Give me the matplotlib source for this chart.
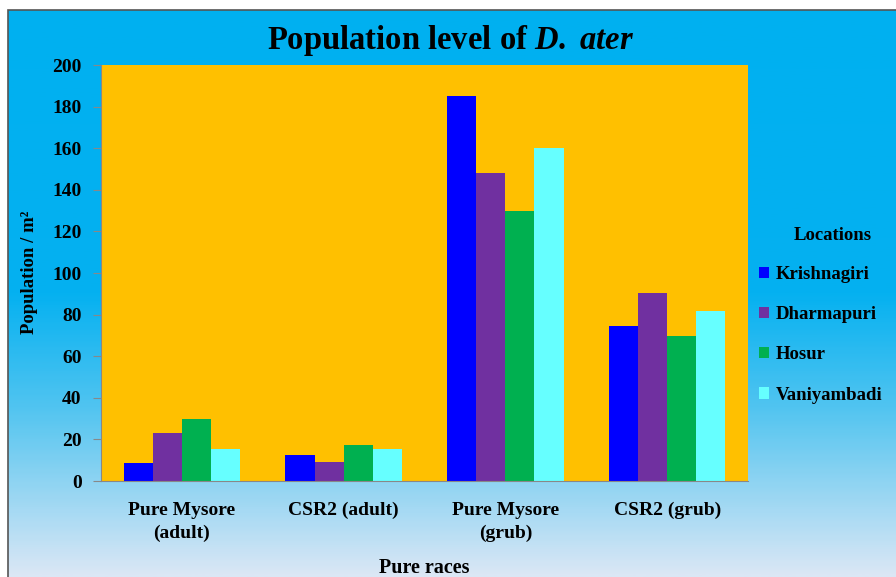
import numpy as np
import matplotlib
matplotlib.use("Agg")
import matplotlib.pyplot as plt
from matplotlib.colors import LinearSegmentedColormap
from matplotlib.patches import Patch, Rectangle

# data
races = ["Pure Mysore\n(adult)", "CSR2 (adult)", "Pure Mysore\n(grub)", "CSR2 (grub)"]
locations = ["Krishnagiri", "Dharmapuri", "Hosur", "Vaniyambadi"]
krishnagiri = [8.5, 12.5, 185, 74.5]
dharmapuri = [23.3, 9.1, 148, 90.4]
hosur = [29.8, 17.3, 130, 69.7]
vaniyambadi = [15.5, 15.2, 160, 81.5]
yticks = [0, 20, 40, 60, 80, 100, 120, 140, 160, 180, 200]

series = [krishnagiri, dharmapuri, hosur, vaniyambadi]
colors = ["#0000FF", "#7030A0", "#00B050", "#66FFFF"]

plt.rcParams["font.family"] = ["Liberation Serif", "DejaVu Serif"]
plt.rcParams["font.weight"] = "bold"
plt.rcParams["mathtext.fontset"] = "custom"
plt.rcParams["mathtext.it"] = "Liberation Serif:italic:bold"
plt.rcParams["mathtext.rm"] = "Liberation Serif:bold"
plt.rcParams["mathtext.bf"] = "Liberation Serif:bold"

fig = plt.figure(figsize=(8.96, 5.77), dpi=100)
fig.patch.set_facecolor("white")

# gradient background of the chart frame
bg = fig.add_axes([8 / 896, 0, 1 - 8 / 896, 1 - 10 / 577])
cmap = LinearSegmentedColormap.from_list(
    "bg", [(0.0, "#00B0F0"), (0.50, "#05B1F0"), (0.70, "#50C4F0"), (1.0, "#DBE7F5")])
grad = np.linspace(0, 1, 300).reshape(-1, 1)
bg.imshow(grad, aspect="auto", cmap=cmap, extent=[0, 1, 0, 1], origin="upper")
bg.set_axis_off()
fig.add_artist(Rectangle((8 / 896, -0.1), 1.2, 1.1 - 10 / 577, transform=fig.transFigure,
                         fill=False, edgecolor="#555555", linewidth=1.2))

ax = fig.add_axes([101 / 896, 1 - 481 / 577, 647 / 896, 416 / 577])
ax.set_facecolor("#FFC000")

x = np.arange(len(races))
w = 0.18
for i, (vals, c, name) in enumerate(zip(series, colors, locations)):
    ax.bar(x + (i - 1.5) * w, vals, width=w, color=c, label=name)

ax.set_xlim(-0.5, len(races) - 0.5)
ax.set_ylim(0, 200)
ax.set_yticks(yticks)
ax.set_yticklabels([str(v) for v in yticks], fontsize=14, fontweight="bold")
ax.set_xticks(x)
ax.set_xticklabels(races, fontsize=14, fontweight="bold", linespacing=1.45)
ax.tick_params(axis="x", length=0, pad=15)
ax.tick_params(axis="y", length=6, color="#888888", pad=8)
for s in ["top", "right"]:
    ax.spines[s].set_visible(False)
for s in ["left", "bottom"]:
    ax.spines[s].set_color("#888888")

fig.text(30 / 896, 1 - 272 / 577, "Population / m²", rotation=90, ha="center", va="center",
         fontsize=13.5, fontweight="bold")
fig.text(424 / 896, 1 - 568 / 577, "Pure races", ha="center", va="center",
         fontsize=14.5, fontweight="bold")

fig.text(451 / 896, 1 - 40 / 577, "Population level of $\\mathit{D.\\ ater}$",
         ha="center", va="center", fontsize=23.5, fontweight="bold")

fig.text(833 / 896, 1 - 235 / 577, "Locations", ha="center", va="center",
         fontsize=13.5, fontweight="bold")
handles = [Patch(facecolor=c, label=n) for c, n in zip(colors, locations)]
leg = fig.legend(handles=handles, loc="upper left",
                 bbox_to_anchor=(742 / 896, 1 - 249 / 577), frameon=False,
                 handlelength=0.55, handleheight=0.55, handletextpad=0.35,
                 labelspacing=1.24, prop={"size": 13.5, "weight": "bold"})

fig.savefig("out.png", dpi=100)
